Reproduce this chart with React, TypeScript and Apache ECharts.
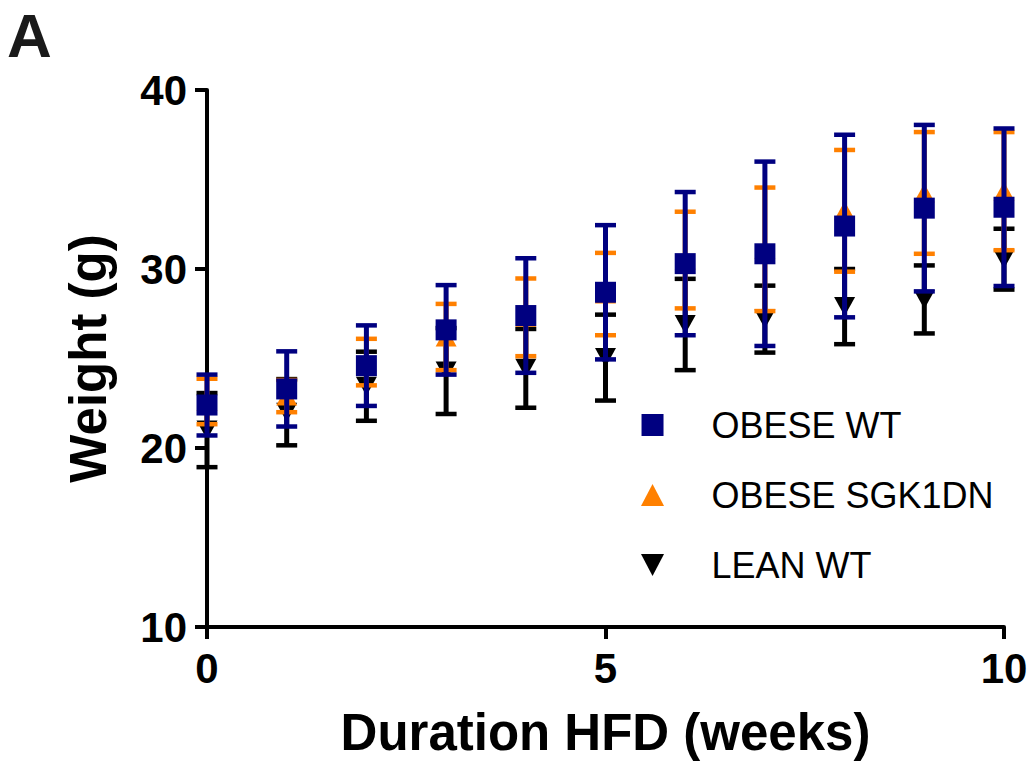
import React, { useEffect, useRef } from 'react';
import * as echarts from 'echarts';

// Weeks on high-fat diet
const weeks = [0, 1, 2, 3, 4, 5, 6, 7, 8, 9, 10];

// Body weight (g): group means and SEM
const obeseWtMean = [22.4, 23.3, 24.6, 26.6, 27.4, 28.7, 30.3, 30.85, 32.4, 33.4, 33.45];
const obeseWtErr = [1.7, 2.1, 2.25, 2.5, 3.2, 3.75, 4.0, 5.15, 5.1, 4.65, 4.4];

const obeseSgkMean = [22.6, 22.9, 24.8, 26.2, 27.3, 28.6, 30.5, 31.1, 33.25, 34.25, 34.35];
const obeseSgkErr = [1.27, 0.9, 1.3, 1.85, 2.17, 2.3, 2.7, 3.45, 3.4, 3.4, 3.3];

const leanWtMean = [21.0, 22.0, 23.45, 24.3, 24.45, 25.05, 26.9, 27.2, 27.9, 28.3, 30.55];
const leanWtErr = [2.07, 1.85, 1.93, 2.4, 2.2, 2.4, 2.55, 1.87, 2.1, 1.9, 1.7];

const seriesNames = ['OBESE WT', 'OBESE SGK1DN', 'LEAN WT'];
const NAVY = '#000080';
const ORANGE = '#FF8000';
const BLACK = '#000000';

const FONT = '"Liberation Sans", Arial, Helvetica, sans-serif';

const SQUARE = 'path://M0,0H21V21H0Z';
const UP_TRI = 'path://M11,0L22,21H0Z';
const DOWN_TRI = 'path://M0,0H22L11,21Z';

function errorBars(name: string, color: string, means: number[], errs: number[], z: number) {
  return {
    type: 'custom',
    name: name + ' SEM',
    z,
    silent: true,
    encode: { x: 0, y: [1, 2] },
    data: weeks.map((w, i) => [w, means[i] - errs[i], means[i] + errs[i]]),
    renderItem: (_params: any, api: any) => {
      const x = api.value(0);
      const lo = api.coord([x, api.value(1)]);
      const hi = api.coord([x, api.value(2)]);
      const hw = 10.5;
      const stem = { stroke: color, lineWidth: 5 };
      const cap = { stroke: color, lineWidth: 4.5 };
      return {
        type: 'group',
        children: [
          { type: 'line', shape: { x1: hi[0], y1: hi[1], x2: lo[0], y2: lo[1] }, style: stem },
          { type: 'line', shape: { x1: hi[0] - hw, y1: hi[1], x2: hi[0] + hw, y2: hi[1] }, style: cap },
          { type: 'line', shape: { x1: lo[0] - hw, y1: lo[1], x2: lo[0] + hw, y2: lo[1] }, style: cap },
        ],
      };
    },
  };
}

function points(name: string, color: string, means: number[], symbol: string, size: number[], z: number) {
  return {
    type: 'scatter',
    name,
    z,
    symbol,
    symbolSize: size,
    itemStyle: { color, opacity: 1 },
    emphasis: { disabled: true },
    data: weeks.map((w, i) => [w, means[i]]),
  };
}

export default function App() {
  const ref = useRef<HTMLDivElement>(null);

  useEffect(() => {
    if (!ref.current) return;
    const chart = echarts.init(ref.current, undefined, { renderer: 'svg' });
    const axisLine = { show: true, onZero: false, lineStyle: { color: '#000', width: 4 } };
    const axisTick = { show: true, length: 12, lineStyle: { color: '#000', width: 4 } };
    const labelStyle = { fontSize: 42, fontWeight: 'bold', color: '#000', fontFamily: FONT };
    const nameStyle = { fontSize: 51, fontWeight: 'bold', color: '#000', fontFamily: FONT };

    chart.setOption({
      animation: false,
      backgroundColor: '#ffffff',
      grid: { left: 207, right: 30, top: 90, bottom: 137, containLabel: false },
      graphic: [
        {
          type: 'text',
          left: 7,
          top: 4,
          style: { text: 'A', fontSize: 62, fontWeight: 'bold', fill: '#1a1a1a', fontFamily: FONT },
        },
      ],
      legend: {
        orient: 'vertical',
        left: 636,
        top: 402,
        itemWidth: 108,
        itemHeight: 22,
        itemGap: 34,
        selectedMode: false,
        textStyle: { fontSize: 36, color: '#000', fontFamily: FONT, lineHeight: 22 },
        data: [
          { name: seriesNames[0], icon: SQUARE },
          { name: seriesNames[1], icon: UP_TRI },
          { name: seriesNames[2], icon: DOWN_TRI },
        ],
      },
      xAxis: {
        type: 'value',
        min: 0,
        max: 10,
        interval: 5,
        axisLine,
        axisTick,
        splitLine: { show: false },
        axisLabel: { ...labelStyle, margin: 20 },
        name: 'Duration HFD (weeks)',
        nameLocation: 'middle',
        nameGap: 80,
        nameTextStyle: nameStyle,
      },
      yAxis: {
        type: 'value',
        min: 10,
        max: 40,
        interval: 10,
        axisLine,
        axisTick,
        splitLine: { show: false },
        axisLabel: { ...labelStyle, margin: 20 },
        name: 'Weight (g)',
        nameLocation: 'middle',
        nameRotate: 90,
        nameGap: 93,
        nameTextStyle: nameStyle,
      },
      series: [
        errorBars(seriesNames[2], BLACK, leanWtMean, leanWtErr, 2),
        points(seriesNames[2], BLACK, leanWtMean, 'path://M0,0H21L10.5,19Z', [21, 19], 3),
        errorBars(seriesNames[1], ORANGE, obeseSgkMean, obeseSgkErr, 4),
        points(seriesNames[1], ORANGE, obeseSgkMean, 'triangle', [21, 19], 5),
        errorBars(seriesNames[0], NAVY, obeseWtMean, obeseWtErr, 6),
        points(seriesNames[0], NAVY, obeseWtMean, 'rect', [21, 21], 7),
      ],
    });

    return () => chart.dispose();
  }, []);

  return (
    <div
      ref={ref}
      style={{ position: 'absolute', left: 0, top: 0, width: 1034, height: 764, background: '#fff' }}
    />
  );
}
